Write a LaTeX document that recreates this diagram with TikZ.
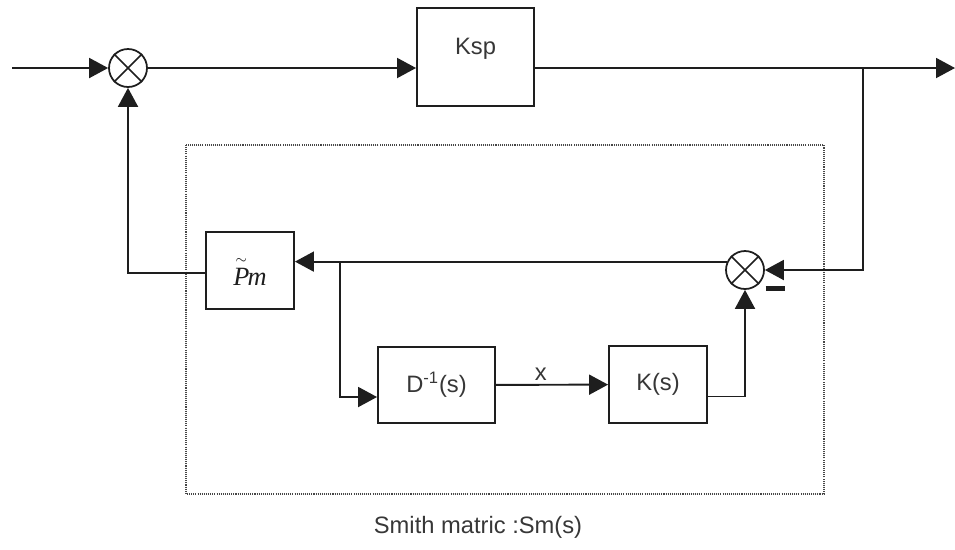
\documentclass[tikz,border=0pt]{standalone}
\usepackage{fix-cm}
\usepackage{fontspec}
\setmainfont{Liberation Sans}
\newfontfamily\smSerif{Liberation Serif}
\usepackage{amsmath}
\usepackage{xcolor}
\usepackage{tikz}
\usetikzlibrary{arrows.meta, positioning}
\definecolor{smInk}{RGB}{30, 30, 30}
\definecolor{smText}{RGB}{55, 55, 55}
\definecolor{smDot}{RGB}{70, 70, 70}
\tikzset{
  blk/.style={draw=smInk, line width=1.1pt, text=smText, inner sep=0pt},
  sumnode/.style={draw=smInk, circle, line width=1pt, minimum size=0.76cm, inner sep=0pt},
  sig/.style={draw=smInk, line width=1.1pt, -{Triangle[length=0.38cm, width=0.4cm]}}
}

\begin{document}
\begin{tikzpicture}[x=0.02cm, y=-0.02cm, font=\fontsize{13.5}{16}\selectfont]
    \useasboundingbox (0,0) rectangle (955,549);
    \draw[smDot, line width=0.9pt, dash pattern=on 0.6pt off 0.6pt] (186,145) rectangle (824,494);
    \node[sumnode] (sumA) at (128,68) {};
    \node[sumnode] (sumB) at (745,270) {};
    \foreach \s in {sumA, sumB}{
      \draw[smInk, line width=0.9pt] (\s.45) -- (\s.225) (\s.135) -- (\s.315);
    }
    \node[blk, minimum width=2.34cm, minimum height=1.96cm, text depth=0.44cm] (ksp) at (475.5,57) {Ksp};
    \node[blk, minimum width=1.76cm, minimum height=1.54cm, text=smInk,
          font=\fontsize{15}{18}\selectfont\smSerif\itshape] (pm) at (250,270.5)
          {$\overset{\scriptscriptstyle\sim}{\text{P}}$\kern-1pt m};
    \node[blk, minimum width=2.34cm, minimum height=1.52cm] (dinv) at (436.5,385) {D\textsuperscript{-1}(s)};
    \node[blk, minimum width=1.96cm, minimum height=1.54cm] (kofs) at (658,384.5) {K(s)};
    \node[inner sep=0pt] (minus) at (775,288) {\color{smInk}\rule{0.38cm}{0.1cm}};
    \node[text=smText] (cap) at (478,527) {Smith matric :Sm(s)};
    \coordinate (in) at (12,68);
    \coordinate (out) at (955,68);
    \coordinate (tapOut) at (863,68);
    \coordinate (tapIn) at (340,262);
    \draw[sig] (in) -- (sumA.west);
    \draw[sig] (sumA.east) -- (sumA.east -| ksp.west);
    \draw[sig] (sumA.east -| ksp.east) -- (out);
    \draw[sig] (tapOut) |- (sumB.east);
    \draw[sig] (sumB.155) -- (sumB.155 -| pm.east);
    \draw[sig] (tapIn) |- ([yshift=-0.24cm]dinv.west);
    \draw[sig] (dinv) -- (kofs) node[pos=0.4, above=1pt, inner sep=1pt, text=smText] {x};
    \draw[sig] ([yshift=-0.24cm]kofs.east) -| (sumB.south);
    \draw[sig] ([yshift=-0.05cm]pm.west) -| (sumA.south);
  \end{tikzpicture}
\end{document}
